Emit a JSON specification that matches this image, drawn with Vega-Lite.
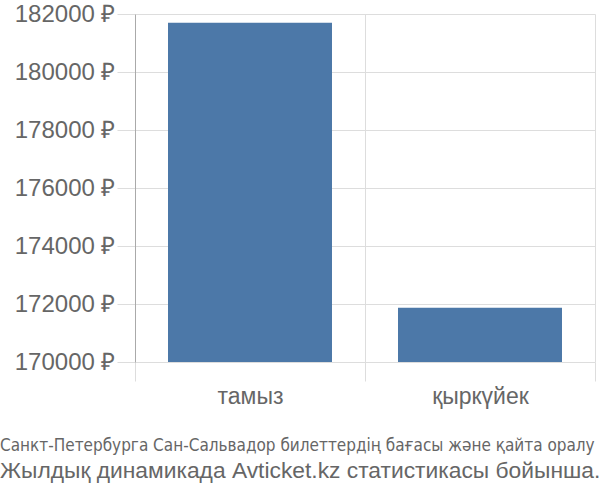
{
  "$schema": "https://vega.github.io/schema/vega-lite/v6.json",
  "width": 460,
  "height": 348,
  "autosize": "none",
  "padding": {"left": 135, "top": 14, "right": 5, "bottom": 138},
  "background": "white",
  "data": {
    "values": [
      {"month": "тамыз", "price": 181700},
      {"month": "қыркүйек", "price": 171870}
    ]
  },
  "title": {
    "text": "Санкт-Петербурга Сан-Сальвадор билеттердің бағасы және қайта оралу",
    "subtitle": "Жылдық динамикада Avticket.kz статистикасы бойынша.",
    "orient": "bottom",
    "anchor": "start",
    "frame": "group",
    "dx": -135,
    "offset": 30,
    "font": "DejaVu Sans Condensed",
    "fontSize": 17,
    "fontWeight": "normal",
    "color": "#666666",
    "subtitleFont": "Liberation Sans",
    "subtitleFontSize": 22.8,
    "subtitleColor": "#666666",
    "subtitlePadding": 5
  },
  "mark": {"type": "bar", "color": "#4c78a8", "clip": true, "width": {"band": 0.713}},
  "encoding": {
    "x": {
      "field": "month",
      "type": "nominal",
      "sort": null,
      "title": null,
      "scale": {"paddingInner": 0, "paddingOuter": 0},
      "axis": {
        "tickBand": "extent",
        "grid": true,
        "gridColor": "#dddddd",
        "tickColor": "#dddddd",
        "tickSize": 19,
        "domain": false,
        "labelAngle": 0,
        "labelFont": "Liberation Sans",
        "labelFontSize": 23,
        "labelColor": "#666666",
        "labelPadding": 4
      }
    },
    "y": {
      "field": "price",
      "type": "quantitative",
      "title": null,
      "scale": {"domain": [170000, 182000], "zero": false, "nice": false},
      "axis": {
        "values": [170000, 172000, 174000, 176000, 178000, 180000, 182000],
        "labelExpr": "datum.value + ' ₽'",
        "grid": true,
        "gridColor": "#dddddd",
        "tickColor": "#dddddd",
        "tickSize": 18,
        "domainColor": "#aaaaaa",
        "labelFont": "Liberation Sans",
        "labelFontSize": 24,
        "labelColor": "#666666",
        "labelPadding": 2
      }
    }
  },
  "config": {
    "view": {"stroke": null}
  }
}
